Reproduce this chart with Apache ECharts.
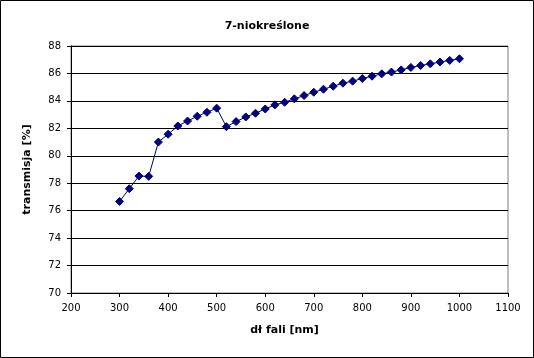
<!DOCTYPE html>
<html>
<head>
<meta charset="utf-8">
<script src="https://cdn.jsdelivr.net/npm/echarts@6/dist/echarts.min.js"></script>
<style>
html,body{margin:0;padding:0;background:#fff;}
#c{width:534px;height:358px;}
</style>
</head>
<body>
<div id="c"></div>
<script>
const wavelengths = [300,320,340,360,380,400,420,440,460,480,500,520,540,560,580,600,620,640,660,680,700,720,740,760,780,800,820,840,860,880,900,920,940,960,980,1000];
const transmission = [76.67,77.6,78.52,78.5,81.0,81.57,82.17,82.53,82.88,83.17,83.47,82.12,82.49,82.83,83.1,83.41,83.71,83.9,84.15,84.39,84.63,84.85,85.07,85.29,85.44,85.63,85.8,85.97,86.1,86.26,86.44,86.58,86.7,86.83,86.95,87.07];
const titleText = '7-niokreślone';
const xName = 'dł fali [nm]';
const yName = 'transmisja [%]';

const font = 'DejaVu Sans';
const chart = echarts.init(document.getElementById('c'), null, {renderer:'canvas'});
const data = wavelengths.map((w,i)=>[w, transmission[i]]);
chart.setOption({
  animation:false,
  backgroundColor:'#fff',
  title:{text:titleText,left:'center',top:16,textStyle:{fontFamily:font,fontSize:11,fontWeight:'bold',color:'#000'}},
  grid:{left:71,right:26,top:46,bottom:65,show:true,borderColor:'#808080',borderWidth:1,backgroundColor:'#fff'},
  xAxis:{type:'value',min:200,max:1100,interval:100,
    name:xName,nameLocation:'middle',nameGap:32,
    nameTextStyle:{fontFamily:font,fontSize:11,fontWeight:'bold',color:'#000',padding:[0,10,0,0]},
    axisLine:{show:true,onZero:false,lineStyle:{color:'#000',width:1}},
    axisTick:{show:true,inside:false,length:4,lineStyle:{color:'#000'}},
    axisLabel:{fontFamily:font,fontSize:10,color:'#000',margin:10,formatter:v=>String(v)},
    splitLine:{show:false}},
  yAxis:{type:'value',min:70,max:88,interval:2,
    name:yName,nameLocation:'middle',nameGap:38,nameRotate:90,
    nameTextStyle:{fontFamily:font,fontSize:11,fontWeight:'bold',color:'#000'},
    axisLine:{show:true,onZero:false,lineStyle:{color:'#000',width:1}},
    axisTick:{show:true,inside:false,length:4,lineStyle:{color:'#000'}},
    axisLabel:{fontFamily:font,fontSize:10,color:'#000',margin:10},
    splitLine:{show:true,lineStyle:{color:'#000',width:1}}},
  graphic:[{type:'rect',shape:{x:0.5,y:0.5,width:533,height:357},style:{fill:null,stroke:'#000',lineWidth:1},z:100}],
  series:[{type:'line',data:data,symbol:'diamond',symbolSize:8,
    lineStyle:{color:'#000080',width:1},
    itemStyle:{color:'#000080',borderColor:'#000080'},
    smooth:false}]
});
</script>
</body>
</html>
